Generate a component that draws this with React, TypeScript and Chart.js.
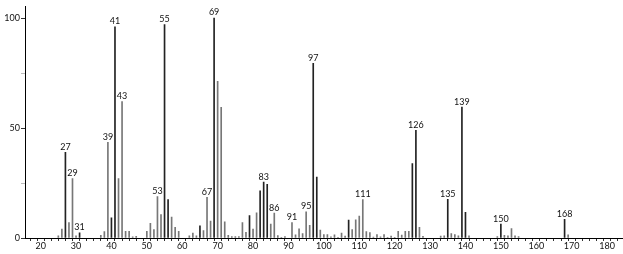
import React, { useEffect, useRef } from "react";
import { Chart, registerables } from "chart.js";

Chart.register(...registerables);

const masses = [25, 26, 27, 28, 29, 30, 31, 37, 38, 39, 40, 41, 42, 43, 44, 45, 46, 47, 50, 51, 52, 53, 54, 55, 56, 57, 58, 59, 62, 63, 64, 65, 66, 67, 68, 69, 70, 71, 72, 73, 74, 75, 76, 77, 78, 79, 80, 81, 82, 83, 84, 85, 86, 87, 88, 89, 91, 92, 93, 94, 95, 96, 97, 98, 99, 100, 101, 102, 103, 104, 105, 106, 107, 108, 109, 110, 111, 112, 113, 114, 115, 116, 117, 118, 119, 120, 121, 122, 123, 124, 125, 126, 127, 128, 133, 134, 135, 136, 137, 138, 139, 140, 141, 149, 150, 151, 152, 153, 154, 155, 168, 169];

const intensities = [1, 4, 39, 7, 27, 1, 2.4, 1.2, 2.9, 43.5, 9.2, 96, 27, 62, 3, 3, 0.5, 0.8, 3, 6.7, 3.8, 18.8, 10.7, 97, 17.5, 9.5, 4.8, 3, 1, 2.2, 1, 5.5, 3.4, 18.5, 7.7, 100, 71.2, 59.4, 7.4, 1.2, 0.6, 0.6, 0.6, 7, 2.6, 10.2, 4.1, 11.4, 21.5, 25.4, 24.4, 6.3, 11.3, 1.1, 0.3, 0.6, 7, 1.4, 4.2, 2, 11.9, 5.8, 79.4, 27.7, 3.6, 1.6, 1.6, 0.5, 1.4, 0.3, 2.2, 0.9, 8.2, 3.8, 8.3, 10, 17.5, 2.9, 2.5, 0.4, 1.5, 0.5, 1.5, 0.3, 0.9, 0.3, 3, 1.3, 3, 3, 33.8, 49, 4.8, 0.8, 0.9, 1, 17.6, 2, 1.6, 1, 59.5, 11.7, 1, 0.7, 6.3, 1.2, 1, 4.3, 1, 0.6, 8.5, 1.4];

const labeledMasses = [27, 29, 31, 39, 41, 43, 53, 55, 67, 69, 83, 86, 91, 95, 97, 111, 126, 135, 139, 150, 168];

const yTickValues = [0, 25, 50, 75, 100];
const yTickLabels = ["0", "", "50", "", "100"];

const darkMasses = new Set([27, 31, 40, 41, 55, 56, 65, 69, 79, 82, 83, 84, 97, 98, 107, 125, 126, 135, 139, 140, 150, 168]);

const labelPlugin = {
  id: "peakLabels",
  afterDatasetsDraw(chart: any) {
    const ctx = chart.ctx;
    const xs = chart.scales.x;
    const ys = chart.scales.y;
    ctx.save();
    ctx.font = "9px Lato";
    ctx.fillStyle = "#111";
    ctx.textAlign = "center";
    ctx.textBaseline = "bottom";
    labeledMasses.forEach((m) => {
      const i = masses.indexOf(m);
      if (i < 0) return;
      const px = xs.getPixelForValue(m);
      const py = ys.getPixelForValue(intensities[i]);
      ctx.fillText(String(m), px, py - 1);
    });
    ctx.restore();
  },
};

export default function App() {
  const ref = useRef<HTMLCanvasElement>(null);
  useEffect(() => {
    document.body.style.margin = "0";
    const canvas = ref.current!;
    const chart = new Chart(canvas, {
      type: "bar",
      data: {
        datasets: [
          {
            data: masses.map((m, i) => ({ x: m, y: intensities[i] })),
            backgroundColor: masses.map((m) => (darkMasses.has(m) ? "#222" : "#777")),
            barThickness: 1,
            borderWidth: 0,
          } as any,
        ],
      },
      options: {
        animation: false,
        responsive: false,
        devicePixelRatio: 1,
        layout: { padding: { left: 0, right: 1, top: 0, bottom: 0 } },
        plugins: { legend: { display: false }, tooltip: { enabled: false } },
        scales: {
          x: {
            type: "linear",
            min: 16.6,
            max: 183.2,
            afterBuildTicks: (scale: any) => {
              const t = [];
              for (let v = 18; v <= 182; v += 2) t.push({ value: v });
              scale.ticks = t;
            },
            afterFit: (scale: any) => {
              scale.height = 16;
            },
            grid: {
              display: true,
              drawOnChartArea: false,
              tickLength: 3,
              color: "#333",
            },
            border: { color: "#000", width: 1 },
            ticks: {
              autoSkip: false,
              maxRotation: 0,
              padding: 0,
              color: "#111",
              font: { family: "Lato", size: 9 },
              callback: (v: any) => (Number(v) % 10 === 0 ? String(v) : ""),
            },
          },
          y: {
            min: 0,
            max: 105.3,
            afterBuildTicks: (scale: any) => {
              scale.ticks = yTickValues.map((v) => ({ value: v }));
            },
            afterFit: (scale: any) => {
              scale.width = 25;
            },
            grid: {
              display: true,
              drawOnChartArea: false,
              tickLength: 4,
              color: (c: any) => (c.tick && c.tick.value % 50 === 0 ? "#333" : "#bbb"),
            },
            border: { color: "#000", width: 1 },
            ticks: {
              padding: 1,
              color: "#111",
              font: { family: "Lato", size: 9 },
              callback: (v: any) => yTickLabels[yTickValues.indexOf(Number(v))] ?? "",
            },
          },
        },
      },
      plugins: [labelPlugin],
    });
    return () => chart.destroy();
  }, []);
  return <canvas ref={ref} width={623} height={254} style={{ display: "block" }} />;
}
